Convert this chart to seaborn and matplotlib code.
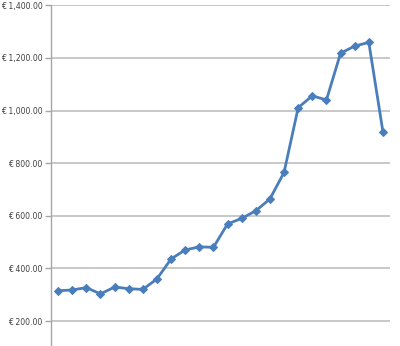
import matplotlib
matplotlib.use("Agg")
import matplotlib.pyplot as plt
import matplotlib.ticker as mticker
import seaborn as sns
import pandas as pd

# Data
periods = list(range(1, 25))
values = [315, 318, 327, 303, 329, 323, 320, 360, 436, 470, 482, 480,
          569, 590, 619, 664, 765, 1011, 1056, 1040, 1218, 1245, 1259, 919]
yticks = [200, 400, 600, 800, 1000, 1200, 1400]

df = pd.DataFrame({"idx": range(len(values)), "value": values})

sns.set_style("white")
plt.rcParams['font.family'] = ['DejaVu Sans']

fig = plt.figure(figsize=(4.0, 3.46), dpi=100)
ax = fig.add_axes([51 / 400, 0.0, (390 - 51) / 400, 1 - 5.3 / 346])

sns.lineplot(data=df, x="idx", y="value", ax=ax, color="#4A7EBB",
             linewidth=2.0, marker="D", markersize=4.5,
             markeredgecolor="#4A7EBB", markerfacecolor="#4A7EBB", zorder=3)

ax.set_xlim(-0.5, len(values) - 0.5)
ax.set_ylim(105, 1400)
ax.set_yticks(yticks)
ax.yaxis.set_major_formatter(mticker.FuncFormatter(lambda v, p: "€ {:,.2f}".format(v)))
ax.set_xticks([])
ax.set_xlabel("")
ax.set_ylabel("")

ax.grid(axis="y", color="#BFBFBF", linewidth=1.2)
ax.set_axisbelow(True)
for s in ["top", "right", "bottom"]:
    ax.spines[s].set_visible(False)
ax.spines["left"].set_color("#A6A6A6")
ax.spines["left"].set_linewidth(1.0)
ax.tick_params(axis="y", direction="out", length=4, width=1.0, color="#A6A6A6",
               labelsize=5.6, labelcolor="#404040", pad=2, left=True)

fig.savefig("out.png", dpi=100)
